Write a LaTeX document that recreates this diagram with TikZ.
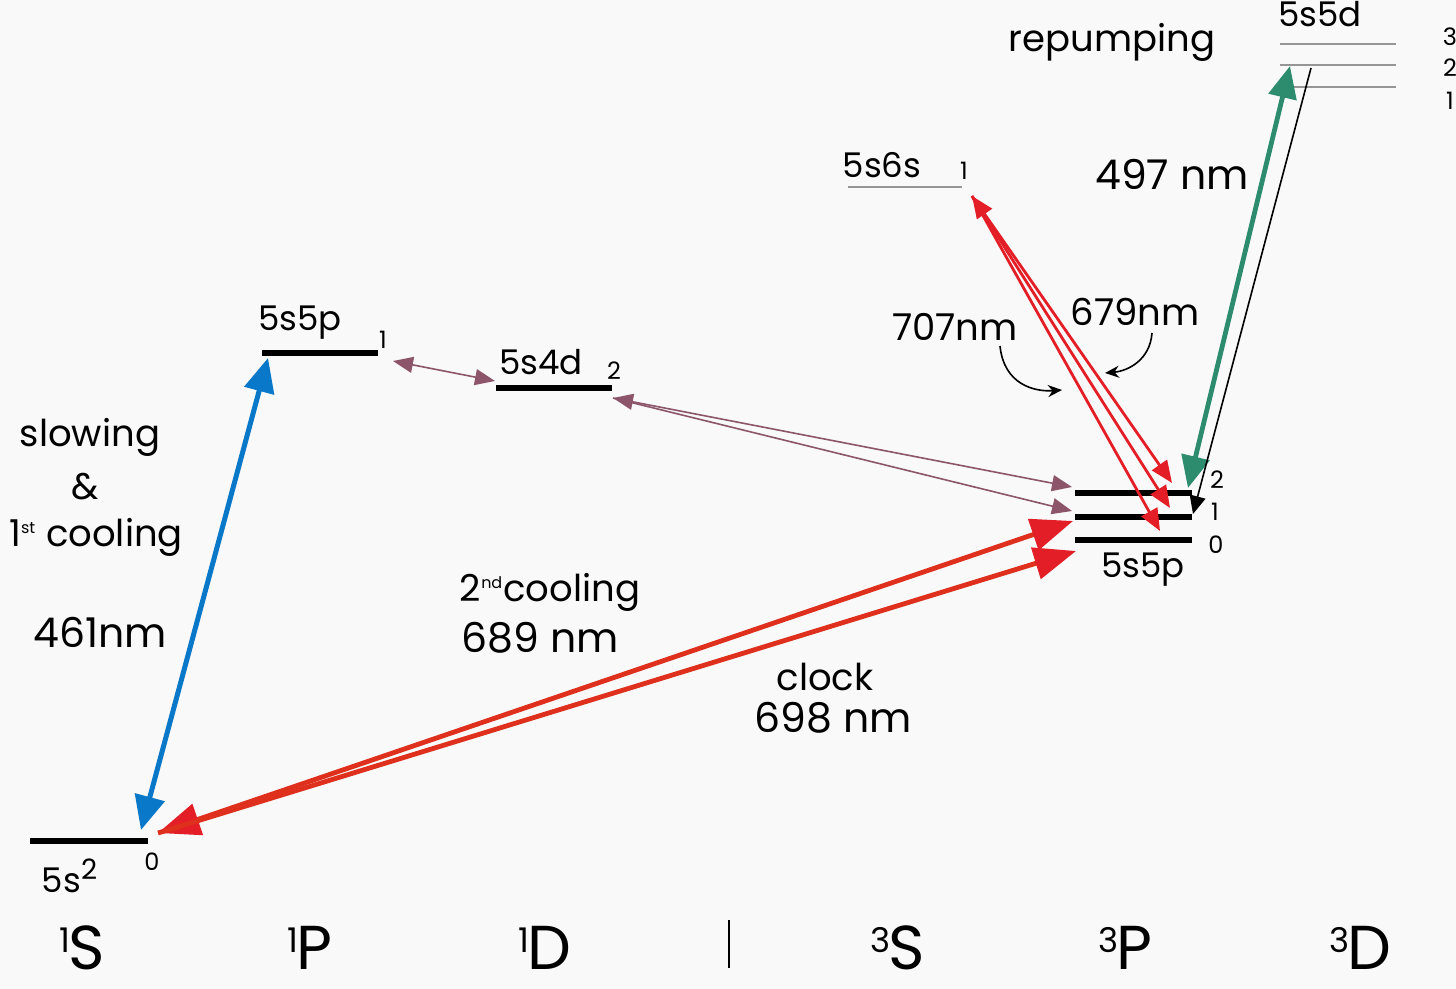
\documentclass[tikz,border=0pt]{standalone}
\usepackage{fontspec}
\setmainfont{Poppins}
\usetikzlibrary{arrows.meta}
\definecolor{blu}{RGB}{10,120,200}
\definecolor{rd}{RGB}{228,30,38}
\definecolor{ord}{RGB}{222,48,28}
\definecolor{mauve}{RGB}{140,85,105}
\definecolor{tealg}{RGB}{45,140,110}
\definecolor{gry}{RGB}{150,150,150}
\definecolor{bg}{RGB}{249,249,249}
\begin{document}
\begin{tikzpicture}[x=0.5pt,y=-0.5pt,
  lev/.style={line width=3pt, black},
  thinlev/.style={line width=0.7pt, gry},
  txt/.style={inner sep=0pt, font=\fontsize{18.5}{22}\selectfont},
  big/.style={inner sep=0pt, font=\fontsize{20.5}{24}\selectfont},
  lvl/.style={inner sep=0pt, font=\fontsize{17}{20}\selectfont},
  jn/.style={inner sep=0pt, font=\fontsize{12}{14}\selectfont},
  term/.style={inner sep=0pt, font=\fontsize{31}{34}\selectfont},
  bluarr/.style={blu, line width=2.5pt, {Triangle[length=17pt,width=15pt]}-{Triangle[length=17pt,width=15pt]}},
  redarr/.style={ord, line width=2.4pt},
  redhead/.style={-{Triangle[length=21pt,width=16pt,color=rd]}},
  pinkarr/.style={rd, line width=1.4pt},
  pinkhead/.style={-{Triangle[length=11pt,width=9pt]}},
  mauvearr/.style={mauve, line width=0.8pt},
  mhead/.style={-{Triangle[length=10pt,width=8pt]}},
  greenarr/.style={tealg, line width=2.4pt, {Triangle[length=16pt,width=14pt]}-{Triangle[length=16pt,width=14pt]}},
  curv/.style={black, line width=0.8pt, -{Stealth[length=7pt,width=6pt]}}
]
\useasboundingbox (0,0) rectangle (1456,989);
\fill[bg] (0,0) rectangle (1456,989);

% ---------- levels ----------
\draw[lev] (30,841) coordinate (g1) -- (148,841) coordinate (g2);
\draw[lev] (262,353) coordinate (p1) -- (378,353) coordinate (p2);
\draw[lev] (496,388) coordinate (d1) -- (612,388) coordinate (d2);
\draw[thinlev] (848,187) coordinate (s1) -- (962,187) coordinate (s2);
\draw[thinlev] (1280,44) -- (1396,44);
\draw[thinlev] (1280,65) -- (1396,65);
\draw[thinlev] (1280,87) -- (1396,87);
\draw[lev] (1075,493) -- (1192,493);
\draw[lev] (1075,517) -- (1192,517);
\draw[lev] (1075,540) -- (1192,540);

% ---------- level labels ----------
\node[lvl] (lg) at (70,876) {5s\textsuperscript{\fontsize{14}{14}\selectfont 2}};
\node[jn] (jg) at (152,862) {0};
\node[lvl] (lp) at (300,323) {5s5p};
\node[jn] (jp) at (383,340) {1};
\node[lvl] (ld) at (541,362) {5s4d};
\node[jn] (jd) at (614,371) {2};
\node[lvl] (ls) at (882,165) {5s6s};
\node[jn] (js) at (964,171) {1};
\node[lvl] (l5d) at (1320,14) {5s5d};
\node[jn] (j3) at (1450,37) {3};
\node[jn] (j2) at (1450,68) {2};
\node[jn] (j1) at (1450,101) {1};
\node[lvl] (l3p) at (1143,570) {5s5p};
\node[jn] (k2) at (1217,480) {2};
\node[jn] (k1) at (1215,512) {1};
\node[jn] (k0) at (1216,545) {0};

% ---------- terms ----------
\node[term] (t1) at (82,948) {\raisebox{0.5ex}{\fontsize{17}{17}\selectfont 1}\kern-1pt S};
\node[term] (t2) at (310,948) {\raisebox{0.5ex}{\fontsize{17}{17}\selectfont 1}\kern-1pt P};
\node[term] (t3) at (545,948) {\raisebox{0.5ex}{\fontsize{17}{17}\selectfont 1}\kern-1pt D};
\draw[black, line width=0.7pt] (729,920) coordinate (sepA) -- (729,968) coordinate (sepB);
\node[term] (t4) at (898,948) {\raisebox{0.5ex}{\fontsize{17}{17}\selectfont 3}\kern-1pt S};
\node[term] (t5) at (1125,948) {\raisebox{0.5ex}{\fontsize{17}{17}\selectfont 3}\kern-1pt P};
\node[term] (t6) at (1360,948) {\raisebox{0.5ex}{\fontsize{17}{17}\selectfont 3}\kern-1pt D};

% ---------- text labels ----------
\node[txt] (sl) at (90,437) {slowing};
\node[txt] (amp) at (85,487) {\&};
\node[txt] (c1) at (96,537) {1\textsuperscript{\fontsize{8}{8}\selectfont st} cooling};
\node[big] (w461) at (100,632) {461nm};
\node[txt] (c2) at (550,592) {2\textsuperscript{\fontsize{8}{8}\selectfont nd}cooling};
\node[big] (w689) at (540,638) {689 nm};
\node[txt] (clk) at (825,677) {clock};
\node[big] (w698) at (833,718) {698 nm};
\node[big] (w497) at (1172,174) {497 nm};
\node[txt] (rep) at (1112,42) {repumping};
\node[txt] (w707) at (955,327) {707nm};
\node[txt] (w679) at (1135,312) {679nm};

% ---------- arrow end points ----------
\coordinate (bA) at (141,830);
\coordinate (bB) at (268,358);
\coordinate (mA) at (393,361);
\coordinate (mB) at (495,381);
\coordinate (nA) at (613,398);
\coordinate (nB) at (1072,487);
\coordinate (nC) at (1072,511);
\coordinate (rA) at (158,833);
\coordinate (rB) at (1073,521);
\coordinate (rC) at (1076,551);
\coordinate (sA) at (972,196);
\coordinate (sB) at (1172,483);
\coordinate (sC) at (1170,508);
\coordinate (sD) at (1160,531);
\coordinate (gA) at (1188,488);
\coordinate (gB) at (1290,66);
\coordinate (kA) at (1311,68);
\coordinate (kB) at (1193,514);

% ---------- transitions ----------
\draw[bluarr] (bA) -- (bB);
\draw[mauvearr, {Triangle[length=10pt,width=8pt]}-{Triangle[length=10pt,width=8pt]}] (mA) -- (mB);
\draw[mauvearr, {Triangle[length=10pt,width=8pt]}-{Triangle[length=10pt,width=8pt]}] (nA) -- (nB);
\draw[mauvearr, mhead] (nA) -- (nC);
\draw[redarr, {Triangle[length=21pt,width=16pt,color=rd]}-{Triangle[length=21pt,width=16pt,color=rd]}] (rA) -- (rB);
\draw[redarr, redhead] (rA) -- (rC);
\draw[pinkarr, {Triangle[length=11pt,width=9pt]}-{Triangle[length=11pt,width=9pt]}] (sA) -- (sB);
\draw[pinkarr, pinkhead] (sA) -- (sC);
\draw[pinkarr, pinkhead] (sA) -- (sD);
\draw[greenarr] (gA) -- (gB);
\draw[black, line width=0.8pt, -{Triangle[length=9pt,width=8pt]}] (kA) -- (kB);

% ---------- curved pointers ----------
\coordinate (cA) at (1062,390);
\coordinate (cB) at (1105,373);
\draw[curv] (1000,346) .. controls (1004,385) and (1035,392) .. (cA);
\draw[curv] (1152,333) .. controls (1150,360) and (1128,371) .. (cB);
\end{tikzpicture}
\end{document}
